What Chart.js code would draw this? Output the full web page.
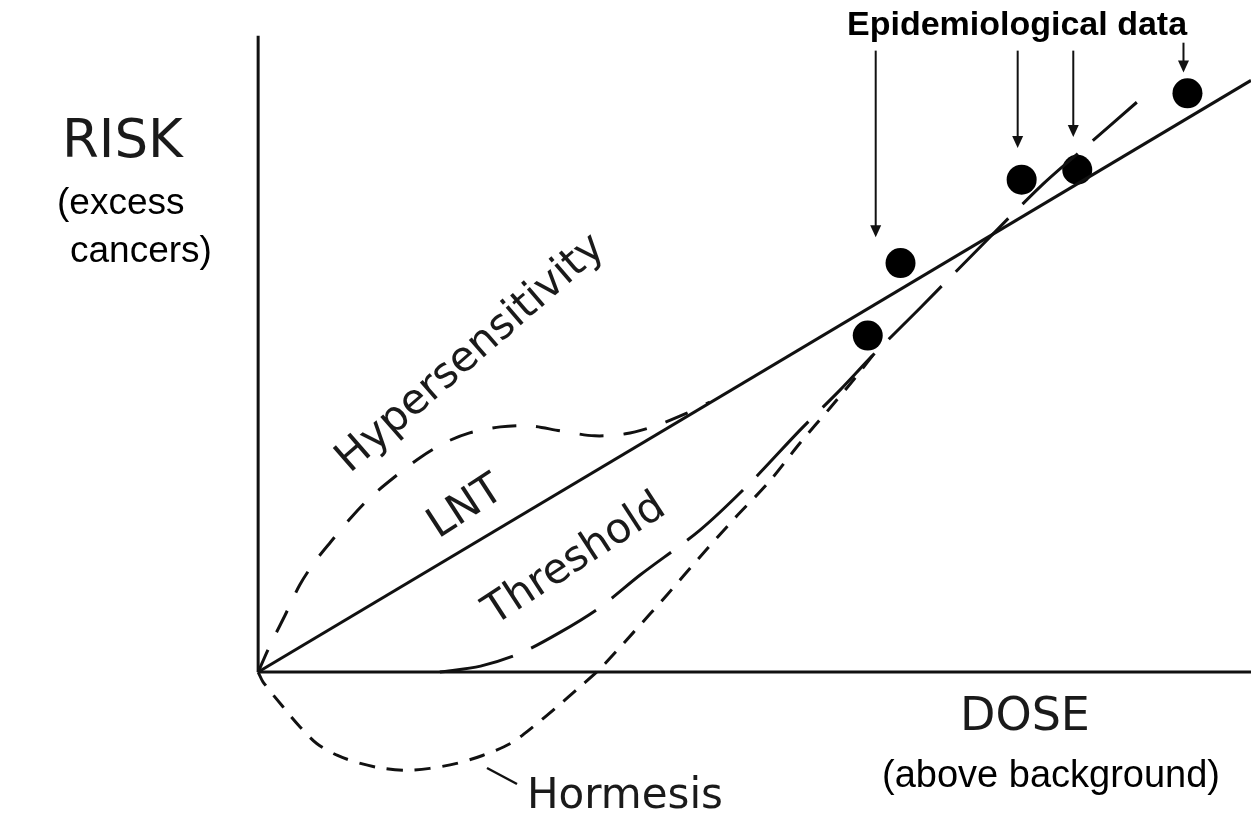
<!DOCTYPE html>
<html>
<head>
<meta charset="utf-8">
<script src="https://cdn.jsdelivr.net/npm/chart.js@4/dist/chart.umd.min.js"></script>
<style>
  html, body { margin: 0; padding: 0; background: #fff; }
  #wrap { width: 1251px; height: 820px; }
</style>
</head>
<body>
<div id="wrap"><canvas id="doseChart"></canvas></div>
<script>
// dose / risk in arbitrary units (origin = no dose, no excess risk)
const lntLine = [{x: 0, y: 0}, {x: 100, y: 59.6}];

const hyperDose = [0, 1.2, 2.7, 4.2, 5.7, 7.3, 9.3, 11.3, 13.8, 16.3, 18.8, 21.3, 24.4, 27.4, 30.4, 33.9, 37.0, 40.0, 43.0, 45.5];
const hyperRisk = [0, 2.7, 5.7, 8.8, 11.1, 13.1, 15.5, 17.6, 19.7, 21.6, 23.1, 24.1, 24.7, 24.8, 24.3, 23.8, 24.0, 24.8, 26.0, 27.2];

const threshDose = [18.3, 22.4, 26.4, 30.4, 34.4, 38.5, 44.5, 49.5, 54.6, 58.6, 61.9, 66.7, 72.7, 79.1, 83.8, 88.5];
const threshRisk = [0, 0.6, 1.9, 4.0, 6.5, 9.8, 14.3, 19.0, 24.4, 28.4, 31.9, 36.7, 42.8, 49.2, 53.3, 57.4];

const hormDose = [0, 0.5, 2.5, 4.2, 5.9, 8.0, 10.3, 12.6, 15.0, 17.3, 20.0, 22.6, 25.4, 27.7, 30.1, 32.4, 34.4, 37.8, 41.2, 44.5, 48.0, 51.4, 54.6, 57.6, 60.1, 61.9];
const hormRisk = [0, -1.0, -3.5, -5.5, -7.2, -8.4, -9.2, -9.7, -9.9, -9.7, -9.2, -8.4, -7.2, -5.5, -3.5, -1.5, 0.3, 4.0, 7.8, 11.6, 15.5, 19.1, 23.1, 26.6, 29.6, 31.9];

// epidemiological observations
const epiDose = [61.4, 64.7, 76.9, 82.5, 93.6];
const epiRisk = [33.9, 41.2, 49.6, 50.6, 58.3];

// arrows from the "Epidemiological data" label
const arrowDose = [62.2, 76.5, 82.1, 93.2];
const arrowTop = [62.6, 62.6, 62.6, 63.4];
const arrowTip = [43.8, 52.8, 53.9, 60.4];

const axisMax = {dose: 100, risk: 64.1};

const pts = (xs, ys) => xs.map((x, i) => ({x: x, y: ys[i]}));
const ink = '#111';

const labelPlugin = {
  id: 'labels',
  afterDraw(chart) {
    const ctx = chart.ctx;
    const xs = chart.scales.x, ys = chart.scales.y;
    ctx.save();
    ctx.fillStyle = ink;
    ctx.strokeStyle = ink;

    // arrows
    ctx.lineWidth = 2;
    arrowDose.forEach((d, i) => {
      const px = xs.getPixelForValue(d);
      const top = ys.getPixelForValue(arrowTop[i]);
      const tip = ys.getPixelForValue(arrowTip[i]);
      ctx.beginPath();
      ctx.moveTo(px, top);
      ctx.lineTo(px, tip - 10);
      ctx.stroke();
      ctx.beginPath();
      ctx.moveTo(px - 5.5, tip - 12);
      ctx.lineTo(px + 5.5, tip - 12);
      ctx.lineTo(px, tip);
      ctx.closePath();
      ctx.fill();
    });

    // hormesis leader
    ctx.lineWidth = 2.5;
    ctx.beginPath();
    ctx.moveTo(487, 768);
    ctx.lineTo(517, 784);
    ctx.stroke();

    ctx.textBaseline = 'alphabetic';
    ctx.textAlign = 'left';
    ctx.fillStyle = '#1a1a1a';
    ctx.font = '53px "DejaVu Sans"';
    ctx.fillText('RISK', 62, 157);
    ctx.font = '46px "DejaVu Sans"';
    ctx.fillText('DOSE', 960, 730);
    ctx.font = '42px "DejaVu Sans"';
    ctx.fillText('Hormesis', 527, 808);

    ctx.fillStyle = '#000';
    ctx.font = '37px "Liberation Sans", Arial';
    ctx.fillText('(excess', 57, 214);
    ctx.fillText('cancers)', 70, 262);
    ctx.font = '38px "Liberation Sans", Arial';
    ctx.fillText('(above background)', 882, 787);
    ctx.font = 'bold 34px "Liberation Sans", Arial';
    ctx.fillText('Epidemiological data', 847, 35);

    // rotated curve labels
    ctx.fillStyle = '#1a1a1a';
    ctx.font = '42px "DejaVu Sans"';
    ctx.textAlign = 'center';
    ctx.textBaseline = 'middle';
    [['Hypersensitivity', 471, 354, -41], ['LNT', 466, 508, -33], ['Threshold', 575, 560, -33]].forEach(t => {
      ctx.save();
      ctx.translate(t[1], t[2]);
      ctx.rotate(t[3] * Math.PI / 180);
      ctx.fillText(t[0], 0, 0);
      ctx.restore();
    });
    ctx.restore();
  }
};

const ctx = document.getElementById('doseChart').getContext('2d');
new Chart(ctx, {
  type: 'scatter',
  data: {
    datasets: [
      { label: 'x axis', data: [{x: 0, y: 0}, {x: axisMax.dose, y: 0}], showLine: true, borderColor: ink, borderWidth: 3, pointRadius: 0 },
      { label: 'y axis', data: [{x: 0, y: 0}, {x: 0, y: axisMax.risk}], showLine: true, borderColor: ink, borderWidth: 3, pointRadius: 0 },
      { label: 'LNT', data: lntLine, showLine: true, borderColor: ink, borderWidth: 3, pointRadius: 0 },
      { label: 'Hypersensitivity', data: pts(hyperDose, hyperRisk), showLine: true, borderColor: ink, borderWidth: 3, borderDash: [24, 20], tension: 0.3, pointRadius: 0 },
      { label: 'Threshold', data: pts(threshDose, threshRisk), showLine: true, borderColor: ink, borderWidth: 3, borderDash: [75, 20], tension: 0.3, pointRadius: 0 },
      { label: 'Hormesis', data: pts(hormDose, hormRisk), showLine: true, borderColor: ink, borderWidth: 3, borderDash: [16, 12], tension: 0.3, pointRadius: 0 },
      { label: 'Epidemiological data', data: pts(epiDose, epiRisk), showLine: false, pointRadius: 15, pointBackgroundColor: '#000', pointBorderWidth: 0 }
    ]
  },
  options: {
    responsive: true,
    maintainAspectRatio: false,
    animation: false,
    layout: { padding: 0, autoPadding: false },
    plugins: { legend: { display: false }, tooltip: { enabled: false } },
    scales: {
      x: { type: 'linear', min: -26, max: 100, display: false },
      y: { type: 'linear', min: -14.9, max: 67.7, display: false }
    }
  },
  plugins: [labelPlugin]
});
</script>
</body>
</html>
